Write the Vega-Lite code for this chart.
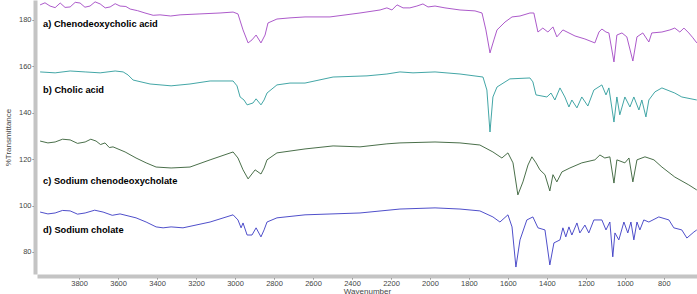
{
  "$schema": "https://vega.github.io/schema/vega-lite/v6.json",
  "autosize": {"type": "none"},
  "padding": {"left": 37, "top": 0, "right": 0, "bottom": 20},
  "width": 660,
  "height": 274,
  "background": "white",
  "config": {"view": {"stroke": null}, "font": "Liberation Sans"},
  "datasets": {
    "spectra": [
      {"s":"a","wn":4000,"t":186.5},{"s":"a","wn":3975,"t":187.4},{"s":"a","wn":3949,"t":186.0},{"s":"a","wn":3923,"t":185.3},{"s":"a","wn":3897,"t":187.3},{"s":"a","wn":3872,"t":185.4},{"s":"a","wn":3846,"t":185.6},{"s":"a","wn":3820,"t":187.6},{"s":"a","wn":3795,"t":187.3},{"s":"a","wn":3770,"t":185.5},{"s":"a","wn":3744,"t":186.0},{"s":"a","wn":3718,"t":187.8},{"s":"a","wn":3692,"t":186.9},{"s":"a","wn":3666,"t":185.2},{"s":"a","wn":3641,"t":185.6},{"s":"a","wn":3615,"t":187.0},{"s":"a","wn":3590,"t":186.0},{"s":"a","wn":3560,"t":185.8},{"s":"a","wn":3538,"t":184.7},{"s":"a","wn":3500,"t":184.0},{"s":"a","wn":3462,"t":183.0},{"s":"a","wn":3420,"t":182.0},{"s":"a","wn":3385,"t":182.2},{"s":"a","wn":3330,"t":181.7},{"s":"a","wn":3282,"t":182.2},{"s":"a","wn":3180,"t":182.6},{"s":"a","wn":3077,"t":183.0},{"s":"a","wn":3010,"t":183.4},{"s":"a","wn":2985,"t":182.6},{"s":"a","wn":2959,"t":175.7},{"s":"a","wn":2933,"t":170.1},{"s":"a","wn":2913,"t":171.4},{"s":"a","wn":2892,"t":173.5},{"s":"a","wn":2867,"t":170.1},{"s":"a","wn":2846,"t":173.5},{"s":"a","wn":2831,"t":178.7},{"s":"a","wn":2785,"t":180.4},{"s":"a","wn":2718,"t":180.9},{"s":"a","wn":2641,"t":181.3},{"s":"a","wn":2513,"t":181.3},{"s":"a","wn":2359,"t":183.0},{"s":"a","wn":2256,"t":184.3},{"s":"a","wn":2221,"t":185.2},{"s":"a","wn":2195,"t":184.3},{"s":"a","wn":2169,"t":186.5},{"s":"a","wn":2138,"t":185.2},{"s":"a","wn":2103,"t":185.2},{"s":"a","wn":2067,"t":186.0},{"s":"a","wn":2036,"t":186.9},{"s":"a","wn":2010,"t":185.6},{"s":"a","wn":1974,"t":186.0},{"s":"a","wn":1923,"t":185.2},{"s":"a","wn":1846,"t":184.3},{"s":"a","wn":1769,"t":183.9},{"s":"a","wn":1733,"t":183.0},{"s":"a","wn":1713,"t":175.7},{"s":"a","wn":1692,"t":165.8},{"s":"a","wn":1672,"t":171.4},{"s":"a","wn":1656,"t":175.7},{"s":"a","wn":1615,"t":179.1},{"s":"a","wn":1579,"t":181.3},{"s":"a","wn":1538,"t":181.7},{"s":"a","wn":1487,"t":183.0},{"s":"a","wn":1467,"t":183.0},{"s":"a","wn":1446,"t":174.8},{"s":"a","wn":1421,"t":176.5},{"s":"a","wn":1395,"t":174.8},{"s":"a","wn":1369,"t":177.0},{"s":"a","wn":1349,"t":172.7},{"s":"a","wn":1318,"t":175.7},{"s":"a","wn":1256,"t":173.1},{"s":"a","wn":1205,"t":171.8},{"s":"a","wn":1154,"t":170.1},{"s":"a","wn":1133,"t":174.8},{"s":"a","wn":1118,"t":176.1},{"s":"a","wn":1097,"t":174.8},{"s":"a","wn":1082,"t":174.4},{"s":"a","wn":1056,"t":161.9},{"s":"a","wn":1041,"t":173.5},{"s":"a","wn":1015,"t":174.4},{"s":"a","wn":990,"t":172.7},{"s":"a","wn":959,"t":162.3},{"s":"a","wn":938,"t":172.7},{"s":"a","wn":908,"t":174.4},{"s":"a","wn":877,"t":170.5},{"s":"a","wn":862,"t":174.4},{"s":"a","wn":810,"t":174.8},{"s":"a","wn":769,"t":175.7},{"s":"a","wn":744,"t":176.5},{"s":"a","wn":718,"t":174.8},{"s":"a","wn":697,"t":176.5},{"s":"a","wn":672,"t":174.4},{"s":"a","wn":651,"t":172.3},{"s":"a","wn":631,"t":170.1},

      {"s":"b","wn":4000,"t":157.6},{"s":"b","wn":3923,"t":157.2},{"s":"b","wn":3846,"t":158.0},{"s":"b","wn":3769,"t":157.6},{"s":"b","wn":3692,"t":157.2},{"s":"b","wn":3615,"t":158.0},{"s":"b","wn":3574,"t":157.6},{"s":"b","wn":3549,"t":156.3},{"s":"b","wn":3523,"t":154.1},{"s":"b","wn":3436,"t":152.4},{"s":"b","wn":3328,"t":151.6},{"s":"b","wn":3231,"t":152.4},{"s":"b","wn":3128,"t":153.7},{"s":"b","wn":3010,"t":153.7},{"s":"b","wn":2990,"t":151.6},{"s":"b","wn":2974,"t":146.8},{"s":"b","wn":2954,"t":145.5},{"s":"b","wn":2938,"t":143.4},{"s":"b","wn":2908,"t":144.2},{"s":"b","wn":2892,"t":146.0},{"s":"b","wn":2867,"t":143.4},{"s":"b","wn":2851,"t":145.5},{"s":"b","wn":2836,"t":148.5},{"s":"b","wn":2785,"t":152.0},{"s":"b","wn":2718,"t":152.8},{"s":"b","wn":2641,"t":152.8},{"s":"b","wn":2497,"t":155.4},{"s":"b","wn":2323,"t":155.9},{"s":"b","wn":2221,"t":156.7},{"s":"b","wn":2154,"t":157.6},{"s":"b","wn":2087,"t":157.2},{"s":"b","wn":1974,"t":157.6},{"s":"b","wn":1846,"t":156.7},{"s":"b","wn":1728,"t":155.4},{"s":"b","wn":1708,"t":149.8},{"s":"b","wn":1692,"t":131.7},{"s":"b","wn":1677,"t":146.8},{"s":"b","wn":1656,"t":151.1},{"s":"b","wn":1590,"t":154.6},{"s":"b","wn":1487,"t":155.0},{"s":"b","wn":1472,"t":153.3},{"s":"b","wn":1456,"t":147.7},{"s":"b","wn":1400,"t":146.8},{"s":"b","wn":1379,"t":148.5},{"s":"b","wn":1359,"t":145.5},{"s":"b","wn":1333,"t":150.7},{"s":"b","wn":1308,"t":146.8},{"s":"b","wn":1287,"t":142.5},{"s":"b","wn":1272,"t":145.5},{"s":"b","wn":1246,"t":142.1},{"s":"b","wn":1221,"t":146.8},{"s":"b","wn":1190,"t":142.9},{"s":"b","wn":1159,"t":149.8},{"s":"b","wn":1118,"t":152.0},{"s":"b","wn":1097,"t":147.7},{"s":"b","wn":1082,"t":150.7},{"s":"b","wn":1056,"t":136.0},{"s":"b","wn":1041,"t":146.8},{"s":"b","wn":1026,"t":139.1},{"s":"b","wn":1000,"t":146.8},{"s":"b","wn":974,"t":142.5},{"s":"b","wn":954,"t":146.8},{"s":"b","wn":928,"t":141.2},{"s":"b","wn":913,"t":145.5},{"s":"b","wn":892,"t":138.2},{"s":"b","wn":877,"t":145.5},{"s":"b","wn":846,"t":149.0},{"s":"b","wn":810,"t":150.7},{"s":"b","wn":744,"t":148.5},{"s":"b","wn":708,"t":146.8},{"s":"b","wn":631,"t":145.5},

      {"s":"c","wn":4000,"t":127.8},{"s":"c","wn":3960,"t":127.0},{"s":"c","wn":3923,"t":127.4},{"s":"c","wn":3885,"t":128.6},{"s":"c","wn":3846,"t":128.3},{"s":"c","wn":3808,"t":126.8},{"s":"c","wn":3769,"t":127.4},{"s":"c","wn":3740,"t":128.6},{"s":"c","wn":3713,"t":127.8},{"s":"c","wn":3690,"t":126.3},{"s":"c","wn":3667,"t":127.0},{"s":"c","wn":3645,"t":125.0},{"s":"c","wn":3626,"t":125.3},{"s":"c","wn":3564,"t":123.1},{"s":"c","wn":3508,"t":120.5},{"s":"c","wn":3456,"t":118.4},{"s":"c","wn":3405,"t":116.6},{"s":"c","wn":3328,"t":116.2},{"s":"c","wn":3231,"t":116.6},{"s":"c","wn":3128,"t":119.7},{"s":"c","wn":3010,"t":123.1},{"s":"c","wn":2985,"t":120.5},{"s":"c","wn":2959,"t":115.4},{"s":"c","wn":2933,"t":111.5},{"s":"c","wn":2897,"t":115.4},{"s":"c","wn":2867,"t":113.6},{"s":"c","wn":2851,"t":116.2},{"s":"c","wn":2836,"t":119.7},{"s":"c","wn":2785,"t":122.7},{"s":"c","wn":2641,"t":124.4},{"s":"c","wn":2497,"t":125.7},{"s":"c","wn":2359,"t":125.3},{"s":"c","wn":2221,"t":126.6},{"s":"c","wn":2154,"t":127.0},{"s":"c","wn":1974,"t":127.4},{"s":"c","wn":1846,"t":127.0},{"s":"c","wn":1744,"t":126.1},{"s":"c","wn":1677,"t":123.1},{"s":"c","wn":1631,"t":120.5},{"s":"c","wn":1600,"t":122.7},{"s":"c","wn":1574,"t":118.4},{"s":"c","wn":1549,"t":104.6},{"s":"c","wn":1523,"t":110.2},{"s":"c","wn":1497,"t":117.5},{"s":"c","wn":1477,"t":121.0},{"s":"c","wn":1456,"t":118.4},{"s":"c","wn":1436,"t":115.4},{"s":"c","wn":1410,"t":113.3},{"s":"c","wn":1385,"t":106.3},{"s":"c","wn":1369,"t":113.3},{"s":"c","wn":1349,"t":110.2},{"s":"c","wn":1323,"t":114.5},{"s":"c","wn":1282,"t":116.2},{"s":"c","wn":1221,"t":118.4},{"s":"c","wn":1154,"t":119.7},{"s":"c","wn":1128,"t":121.8},{"s":"c","wn":1103,"t":120.5},{"s":"c","wn":1077,"t":121.0},{"s":"c","wn":1056,"t":109.7},{"s":"c","wn":1041,"t":119.7},{"s":"c","wn":1000,"t":118.4},{"s":"c","wn":979,"t":120.5},{"s":"c","wn":959,"t":110.2},{"s":"c","wn":938,"t":119.7},{"s":"c","wn":897,"t":121.0},{"s":"c","wn":851,"t":119.7},{"s":"c","wn":810,"t":116.6},{"s":"c","wn":744,"t":112.3},{"s":"c","wn":672,"t":108.9},{"s":"c","wn":631,"t":106.7},

      {"s":"d","wn":4000,"t":97.2},{"s":"d","wn":3960,"t":96.4},{"s":"d","wn":3923,"t":96.8},{"s":"d","wn":3885,"t":97.9},{"s":"d","wn":3846,"t":97.7},{"s":"d","wn":3808,"t":96.3},{"s":"d","wn":3769,"t":96.8},{"s":"d","wn":3720,"t":98.0},{"s":"d","wn":3677,"t":97.2},{"s":"d","wn":3630,"t":95.8},{"s":"d","wn":3590,"t":96.4},{"s":"d","wn":3508,"t":94.7},{"s":"d","wn":3456,"t":92.9},{"s":"d","wn":3405,"t":90.8},{"s":"d","wn":3369,"t":90.4},{"s":"d","wn":3328,"t":90.8},{"s":"d","wn":3267,"t":90.4},{"s":"d","wn":3128,"t":92.9},{"s":"d","wn":3010,"t":96.0},{"s":"d","wn":2985,"t":93.8},{"s":"d","wn":2969,"t":90.4},{"s":"d","wn":2959,"t":92.5},{"s":"d","wn":2938,"t":87.3},{"s":"d","wn":2913,"t":87.3},{"s":"d","wn":2892,"t":90.4},{"s":"d","wn":2867,"t":86.5},{"s":"d","wn":2851,"t":89.5},{"s":"d","wn":2836,"t":92.9},{"s":"d","wn":2785,"t":94.7},{"s":"d","wn":2641,"t":96.0},{"s":"d","wn":2359,"t":96.8},{"s":"d","wn":2154,"t":98.5},{"s":"d","wn":1974,"t":99.0},{"s":"d","wn":1846,"t":98.5},{"s":"d","wn":1744,"t":97.7},{"s":"d","wn":1677,"t":95.1},{"s":"d","wn":1641,"t":92.9},{"s":"d","wn":1600,"t":96.0},{"s":"d","wn":1579,"t":90.8},{"s":"d","wn":1559,"t":73.5},{"s":"d","wn":1538,"t":85.2},{"s":"d","wn":1503,"t":93.8},{"s":"d","wn":1472,"t":95.1},{"s":"d","wn":1446,"t":90.4},{"s":"d","wn":1410,"t":89.5},{"s":"d","wn":1385,"t":74.4},{"s":"d","wn":1364,"t":83.9},{"s":"d","wn":1333,"t":85.2},{"s":"d","wn":1318,"t":90.4},{"s":"d","wn":1303,"t":86.5},{"s":"d","wn":1287,"t":90.8},{"s":"d","wn":1272,"t":87.3},{"s":"d","wn":1246,"t":92.5},{"s":"d","wn":1231,"t":88.2},{"s":"d","wn":1205,"t":91.6},{"s":"d","wn":1185,"t":88.2},{"s":"d","wn":1159,"t":93.8},{"s":"d","wn":1118,"t":93.8},{"s":"d","wn":1097,"t":89.5},{"s":"d","wn":1077,"t":92.9},{"s":"d","wn":1062,"t":77.9},{"s":"d","wn":1051,"t":88.2},{"s":"d","wn":1031,"t":85.2},{"s":"d","wn":1005,"t":92.9},{"s":"d","wn":985,"t":88.2},{"s":"d","wn":969,"t":92.9},{"s":"d","wn":954,"t":85.2},{"s":"d","wn":938,"t":92.9},{"s":"d","wn":923,"t":89.5},{"s":"d","wn":903,"t":93.8},{"s":"d","wn":877,"t":92.9},{"s":"d","wn":826,"t":95.1},{"s":"d","wn":774,"t":93.8},{"s":"d","wn":749,"t":90.4},{"s":"d","wn":708,"t":89.5},{"s":"d","wn":682,"t":86.0},{"s":"d","wn":646,"t":88.6},{"s":"d","wn":631,"t":89.5}
    ],
    "labels": [
      {"wn":3985,"t":178.3,"label":"a) Chenodeoxycholic acid"},
      {"wn":3985,"t":149.8,"label":"b) Cholic acid"},
      {"wn":3985,"t":110.6,"label":"c) Sodium chenodeoxycholate"},
      {"wn":3985,"t":89.5,"label":"d) Sodium cholate"}
    ]
  },
  "layer": [
    {
      "data": {"name": "spectra"},
      "mark": {"type": "line", "strokeWidth": 0.9, "clip": true},
      "encoding": {
        "x": {
          "field": "wn", "type": "quantitative",
          "scale": {"domain": [630, 4016], "reverse": true, "nice": false, "zero": false},
          "axis": {
            "values": [800,1000,1200,1400,1600,1800,2000,2200,2400,2600,2800,3000,3200,3400,3600,3800],
            "format": "d",
            "title": "Wavenumber", "titleFontSize": 8, "titleFontWeight": "normal", "titleColor": "#444",
            "titleY": 17, "titleBaseline": "alphabetic",
            "labelFontSize": 7.5, "labelColor": "#444", "labelPadding": 0,
            "domainColor": "#c4c4c4", "domainWidth": 4, "offset": 2,
            "tickColor": "#777", "tickSize": 3, "tickWidth": 1,
            "grid": false
          }
        },
        "y": {
          "field": "t", "type": "quantitative",
          "scale": {"domain": [70.5, 188.6], "nice": false, "zero": false},
          "axis": {
            "values": [80,90,100,110,120,130,140,150,160,170,180],
            "format": "d",
            "title": "%Transmittance", "titleFontSize": 8, "titleFontWeight": "normal", "titleColor": "#444",
            "titlePadding": 6,
            "labelFontSize": 7.5, "labelColor": "#444", "labelPadding": 1,
            "domainColor": "#c4c4c4", "domainWidth": 4, "offset": 2,
            "tickColor": "#777", "tickSize": 3, "tickWidth": 1,
            "grid": false
          }
        },
        "color": {
          "field": "s", "type": "nominal",
          "scale": {"domain": ["a","b","c","d"], "range": ["#a347c4","#2e9c9c","#355f35","#3b3bc4"]},
          "legend": null
        }
      }
    },
    {
      "data": {"name": "labels"},
      "mark": {"type": "text", "align": "left", "baseline": "middle", "fontSize": 9.3, "fontWeight": "bold", "color": "black", "font": "Liberation Sans"},
      "encoding": {
        "x": {"field": "wn", "type": "quantitative"},
        "y": {"field": "t", "type": "quantitative"},
        "text": {"field": "label"}
      }
    }
  ]
}
